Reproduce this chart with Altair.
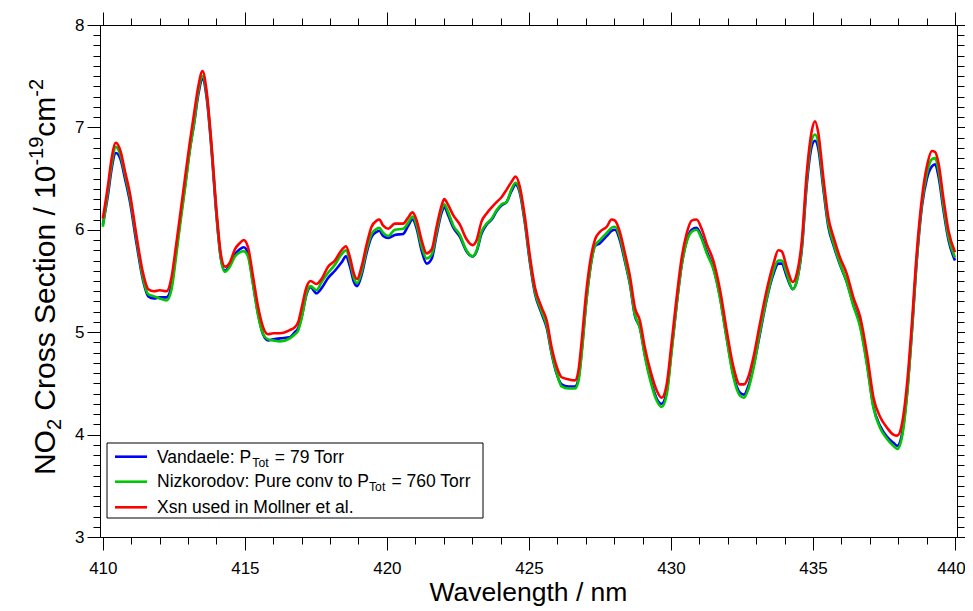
import altair as alt
import pandas as pd

# ---------------- data ----------------
wavelength = [
    410.00, 410.19, 410.30, 410.46, 410.62, 410.78, 410.95, 411.19, 411.42, 411.60,
    411.80, 412.00, 412.24, 412.42, 412.57, 412.71, 412.89, 413.06, 413.22, 413.36,
    413.51, 413.65, 413.82, 414.00, 414.15, 414.30, 414.47, 414.65, 414.82, 414.96,
    415.11, 415.29, 415.47, 415.64, 415.82, 416.00, 416.24, 416.58, 416.76, 416.88,
    417.00, 417.17, 417.31, 417.52, 417.70, 417.93, 418.17, 418.40, 418.56, 418.70,
    418.84, 418.95, 419.11, 419.29, 419.46, 419.64, 419.73, 419.87, 420.05, 420.28,
    420.57, 420.75, 420.90, 421.05, 421.22, 421.40, 421.58, 421.75, 421.93, 422.02,
    422.16, 422.34, 422.57, 422.80, 423.02, 423.16, 423.33, 423.51, 423.69, 423.86,
    424.04, 424.21, 424.39, 424.53, 424.68, 424.86, 425.04, 425.21, 425.45, 425.63,
    425.80, 425.98, 426.15, 426.39, 426.62, 426.74, 426.86, 427.01, 427.18, 427.32,
    427.50, 427.74, 427.91, 428.03, 428.20, 428.38, 428.56, 428.73, 428.91, 429.08,
    429.30, 429.50, 429.67, 429.85, 430.02, 430.20, 430.38, 430.55, 430.73, 430.90,
    431.08, 431.26, 431.49, 431.73, 431.96, 432.20, 432.43, 432.57, 432.72, 432.90,
    433.13, 433.37, 433.61, 433.78, 433.90, 434.07, 434.29, 434.43, 434.61, 434.78,
    434.96, 435.07, 435.19, 435.36, 435.54, 435.72, 435.95, 436.19, 436.42, 436.66,
    436.90, 437.13, 437.37, 437.60, 437.83, 437.97, 438.13, 438.31, 438.48, 438.66,
    438.84, 439.01, 439.19, 439.30, 439.42, 439.60, 439.77, 440.00,
]

mollner = [
    6.11, 6.45, 6.68, 6.85, 6.77, 6.57, 6.36, 5.93, 5.57, 5.42,
    5.40, 5.41, 5.40, 5.54, 5.83, 6.12, 6.50, 6.85, 7.15, 7.40,
    7.55, 7.36, 6.85, 6.19, 5.77, 5.64, 5.68, 5.81, 5.87, 5.90,
    5.83, 5.54, 5.24, 5.05, 4.98, 4.99, 4.99, 5.02, 5.05, 5.10,
    5.24, 5.44, 5.50, 5.47, 5.52, 5.64, 5.70, 5.80, 5.84, 5.73,
    5.57, 5.52, 5.64, 5.86, 6.03, 6.09, 6.10, 6.04, 6.01, 6.06,
    6.06, 6.12, 6.17, 6.09, 5.90, 5.77, 5.81, 6.03, 6.24, 6.30,
    6.24, 6.14, 6.05, 5.91, 5.85, 5.90, 6.08, 6.16, 6.22, 6.27,
    6.32, 6.39, 6.47, 6.52, 6.42, 6.12, 5.73, 5.44, 5.24, 5.11,
    4.85, 4.66, 4.56, 4.54, 4.53, 4.62, 4.92, 5.37, 5.73, 5.90,
    5.98, 6.03, 6.10, 6.09, 5.98, 5.77, 5.54, 5.24, 5.11, 4.85,
    4.60, 4.43, 4.36, 4.49, 4.89, 5.34, 5.73, 5.96, 6.09, 6.10,
    6.01, 5.86, 5.70, 5.41, 5.02, 4.66, 4.49, 4.49, 4.56, 4.75,
    5.08, 5.41, 5.67, 5.80, 5.79, 5.64, 5.49, 5.57, 5.90, 6.55,
    6.97, 7.06, 6.94, 6.52, 6.12, 5.93, 5.73, 5.57, 5.34, 5.15,
    4.79, 4.36, 4.17, 4.07, 4.00, 3.99, 4.10, 4.49, 5.08, 5.80,
    6.32, 6.62, 6.77, 6.76, 6.65, 6.29, 5.99, 5.78,
]

vandaele = [
    6.05, 6.36, 6.58, 6.75, 6.69, 6.50, 6.28, 5.86, 5.50, 5.35,
    5.33, 5.34, 5.34, 5.46, 5.76, 6.06, 6.42, 6.78, 7.05, 7.32,
    7.47, 7.30, 6.80, 6.14, 5.73, 5.60, 5.66, 5.76, 5.81, 5.83,
    5.77, 5.47, 5.17, 4.98, 4.92, 4.93, 4.94, 4.95, 5.00, 5.04,
    5.15, 5.37, 5.44, 5.38, 5.43, 5.53, 5.60, 5.68, 5.74, 5.64,
    5.49, 5.45, 5.56, 5.78, 5.93, 5.98, 5.99, 5.94, 5.92, 5.95,
    5.96, 6.04, 6.10, 6.01, 5.80, 5.67, 5.72, 5.95, 6.17, 6.22,
    6.14, 6.02, 5.93, 5.79, 5.74, 5.79, 5.96, 6.05, 6.10, 6.18,
    6.24, 6.27, 6.38, 6.44, 6.36, 6.06, 5.67, 5.38, 5.18, 5.04,
    4.79, 4.59, 4.49, 4.47, 4.47, 4.54, 4.82, 5.28, 5.66, 5.84,
    5.87, 5.94, 5.99, 6.00, 5.90, 5.69, 5.46, 5.16, 5.04, 4.78,
    4.52, 4.35, 4.30, 4.42, 4.82, 5.27, 5.66, 5.89, 6.00, 6.02,
    5.93, 5.79, 5.63, 5.34, 4.95, 4.58, 4.41, 4.39, 4.47, 4.66,
    4.98, 5.32, 5.57, 5.67, 5.67, 5.55, 5.42, 5.50, 5.82, 6.44,
    6.82, 6.87, 6.79, 6.41, 6.03, 5.85, 5.66, 5.49, 5.27, 5.07,
    4.70, 4.27, 4.08, 3.98, 3.92, 3.89, 4.00, 4.40, 5.00, 5.72,
    6.24, 6.50, 6.62, 6.64, 6.52, 6.18, 5.90, 5.70,
]

nizkorodov = [
    6.03, 6.40, 6.62, 6.81, 6.73, 6.54, 6.32, 5.90, 5.52, 5.37,
    5.35, 5.33, 5.31, 5.42, 5.72, 6.03, 6.40, 6.77, 7.06, 7.35,
    7.50, 7.33, 6.83, 6.16, 5.73, 5.59, 5.64, 5.74, 5.78, 5.79,
    5.74, 5.46, 5.16, 4.98, 4.93, 4.92, 4.91, 4.94, 4.98, 5.02,
    5.14, 5.38, 5.45, 5.41, 5.49, 5.58, 5.66, 5.76, 5.80, 5.69,
    5.53, 5.48, 5.59, 5.81, 5.96, 6.01, 6.02, 5.97, 5.94, 6.00,
    6.01, 6.07, 6.13, 6.04, 5.84, 5.72, 5.76, 5.98, 6.20, 6.25,
    6.17, 6.04, 5.95, 5.80, 5.74, 5.80, 5.98, 6.06, 6.11, 6.19,
    6.25, 6.27, 6.40, 6.46, 6.38, 6.08, 5.69, 5.40, 5.20, 5.06,
    4.80, 4.60, 4.47, 4.45, 4.45, 4.52, 4.80, 5.27, 5.66, 5.84,
    5.90, 5.97, 6.02, 6.03, 5.93, 5.71, 5.47, 5.17, 5.04, 4.77,
    4.50, 4.33, 4.27, 4.39, 4.80, 5.27, 5.66, 5.88, 5.98, 6.00,
    5.91, 5.77, 5.62, 5.33, 4.94, 4.56, 4.38, 4.36, 4.44, 4.64,
    5.00, 5.33, 5.60, 5.70, 5.70, 5.58, 5.42, 5.50, 5.84, 6.48,
    6.88, 6.93, 6.85, 6.45, 6.06, 5.87, 5.67, 5.49, 5.26, 5.05,
    4.68, 4.26, 4.06, 3.96, 3.89, 3.86, 3.97, 4.38, 5.00, 5.74,
    6.27, 6.55, 6.69, 6.70, 6.58, 6.22, 5.93, 5.73,
]

series_labels = [
    ["Vandaele: P", "Tot", " = 79 Torr"],
    ["Nizkorodov: Pure conv to P", "Tot", " = 760 Torr"],
    ["Xsn used in Mollner et al."],
]
series_colors = ["#0000FF", "#00C800", "#FF0000"]

x_title = "Wavelength / nm"
y_title_parts = ["NO", "2", " Cross Section / 10", "-19", "cm", "-2"]
y_title_kind = ["main", "sub", "main", "sup", "main", "sup"]

x_major = [410, 415, 420, 425, 430, 435, 440]
x_minor = list(range(410, 441))
y_major = [3, 4, 5, 6, 7, 8]
y_minor = [round(3 + 0.1 * i, 1) for i in range(51)]

# ---------------- layout / style ----------------
FONT = "Liberation Sans"
W, H = 857, 512
X_DOMAIN = [409.9, 440.07]
Y_DOMAIN = [3, 8]
LINE_W = 2.6

ARIAL = {
    " ": 278, "-": 333, ".": 278, "/": 278, ":": 278, "=": 584,
    "0": 556, "1": 556, "2": 556, "3": 556, "4": 556, "5": 556, "6": 556,
    "7": 556, "8": 556, "9": 556,
    "A": 667, "C": 722, "M": 833, "N": 722, "O": 778, "P": 667, "S": 667,
    "T": 611, "V": 667, "W": 944, "X": 667,
    "a": 556, "c": 500, "d": 556, "e": 556, "g": 556, "h": 556, "i": 222,
    "k": 500, "l": 222, "m": 833, "n": 556, "o": 556, "r": 333, "s": 500,
    "t": 278, "u": 556, "v": 500, "z": 500,
}


def tw(s, size):
    return sum(ARIAL.get(c, 556) for c in s) * size / 1000.0


df = pd.DataFrame({"wl": wavelength, "van": vandaele, "niz": nizkorodov, "mol": mollner})

xs = alt.Scale(domain=X_DOMAIN, nice=False, zero=False)
ys = alt.Scale(domain=Y_DOMAIN, nice=False, zero=False)


def ax(orient, values, size, labels=False, domain=True, pad=0, fsize=17, offset=None):
    kw = dict(orient=orient, values=values, tickSize=size, labels=labels, title=None,
              grid=False, domain=domain, domainColor="black", domainWidth=1,
              tickColor="black", tickWidth=1)
    if labels:
        kw.update(labelFont=FONT, labelFontSize=fsize, labelColor="black",
                  labelPadding=pad, labelFlush=False, labelOverlap=False)
    if offset is not None:
        kw["labelOffset"] = offset
    return alt.Axis(**kw)


# the last x label is nudged slightly left so it stays inside the page
last_label_nudge = {"condition": {"test": "datum.value == 440", "value": -4}, "value": 0}

blue = alt.Chart(df).mark_line(color=series_colors[0], strokeWidth=LINE_W, interpolate="monotone").encode(
    x=alt.X("wl:Q", scale=xs, axis=ax("bottom", x_major, 13, True, pad=10, fsize=17,
                                     offset=last_label_nudge)),
    y=alt.Y("van:Q", scale=ys, axis=ax("left", y_major, 13, True, pad=3)),
)
green = alt.Chart(df).mark_line(color=series_colors[1], strokeWidth=LINE_W, interpolate="monotone").encode(
    x=alt.X("wl:Q", scale=xs, axis=ax("bottom", x_minor, 7, domain=False)),
    y=alt.Y("niz:Q", scale=ys, axis=ax("left", y_minor, 7, domain=False)),
)
red = alt.Chart(df).mark_line(color=series_colors[2], strokeWidth=LINE_W, interpolate="monotone").encode(
    x=alt.X("wl:Q", scale=xs, axis=ax("top", x_major, 13)),
    y=alt.Y("mol:Q", scale=ys, axis=ax("right", y_major, 13)),
)
ghost = alt.Chart(df).mark_line(opacity=0).encode(
    x=alt.X("wl:Q", scale=xs, axis=ax("top", x_minor, 7, domain=False)),
    y=alt.Y("mol:Q", scale=ys, axis=ax("right", y_minor, 7, domain=False)),
)

one = alt.Data(values=[{"a": 1}])
annots = []

# legend box
annots.append(alt.Chart(one).mark_rect(fill="white", stroke="black", strokeWidth=1).encode(
    x=alt.value(7), x2=alt.value(383), y=alt.value(418), y2=alt.value(493)))

LEG_MAIN, LEG_SUB = 17.5, 12.2
row_line_y = [431.7, 456.7, 482.3]
row_base_y = [438.0, 462.0, 487.5]
for i, parts in enumerate(series_labels):
    annots.append(alt.Chart(one).mark_rule(color=series_colors[i], strokeWidth=LINE_W).encode(
        x=alt.value(15), x2=alt.value(47), y=alt.value(row_line_y[i])))
    cx = 57.0
    for j, p in enumerate(parts):
        sub = (j == 1)
        size = LEG_SUB if sub else LEG_MAIN
        lead = len(p) - len(p.lstrip(" "))
        txt = p.strip(" ")
        x0 = cx + tw(" " * lead, size)
        annots.append(alt.Chart(one).mark_text(
            text=txt, font=FONT, fontSize=size, align="left", baseline="alphabetic", color="black"
        ).encode(x=alt.value(x0), y=alt.value(row_base_y[i] + (3.5 if sub else 0))))
        cx += tw(p, size)

# x title
annots.append(alt.Chart(one).mark_text(
    text=x_title, font=FONT, fontSize=26.5, align="center", baseline="alphabetic", color="black"
).encode(x=alt.value(W / 2), y=alt.value(576)))

# y title (rotated, built from pieces for sub/superscripts)
T_MAIN, T_SMALL = 30.0, 20.0
sizes = [T_MAIN if k == "main" else T_SMALL for k in y_title_kind]
total = sum(tw(p, s) for p, s in zip(y_title_parts, sizes))
base_x = -45.0
cy = 252 + total / 2
for p, k, s in zip(y_title_parts, y_title_kind, sizes):
    lead = len(p) - len(p.lstrip(" "))
    txt = p.strip(" ")
    y0 = cy - tw(" " * lead, s)
    shift = {"main": 0.0, "sub": 6.0, "sup": -12.0}[k]
    annots.append(alt.Chart(one).mark_text(
        text=txt, font=FONT, fontSize=s, align="left", baseline="alphabetic", angle=270, color="black"
    ).encode(x=alt.value(base_x + shift), y=alt.value(y0)))
    cy -= tw(p, s)

chart = alt.layer(blue, green, red, ghost, *annots).resolve_axis(
    x="independent", y="independent"
).properties(
    width=W, height=H,
    padding={"left": 92, "top": 17, "right": 8, "bottom": 74},
    autosize=alt.AutoSizeParams(type="none"),
    background="white",
).configure_view(strokeWidth=0)

chart.save("out.html", embed_options={"renderer": "svg", "actions": False})
